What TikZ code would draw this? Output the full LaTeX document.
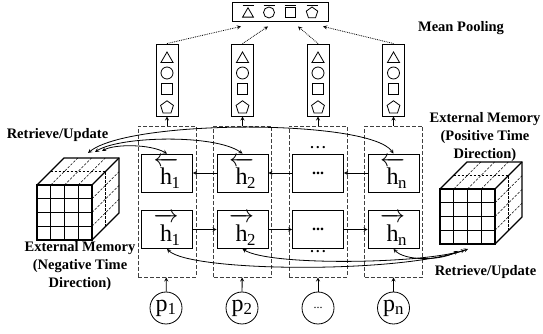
\documentclass[tikz,border=0pt]{standalone}
\usepackage{fontspec}
\setmainfont{Liberation Serif}
\usepackage{amsmath}
\usetikzlibrary{arrows,shapes.geometric,positioning}

\newcommand{\hst}[2]{$#1{\rule{0pt}{18.5pt}\text{h}}\mkern-5mu{}_{\text{#2}}$}

\tikzset{
  lbl/.style    = {font=\fontsize{14.5}{18}\selectfont\bfseries, align=center},
  vecbox/.style = {draw, line width=0.9pt, minimum width=22pt, minimum height=72pt, inner sep=0},
  hbox/.style   = {draw, line width=0.8pt, minimum width=51pt, minimum height=38pt,
                   inner sep=0, font=\fontsize{24}{24}\selectfont},
  colbox/.style = {draw=black!75, line width=0.8pt, dash pattern=on 4pt off 2pt,
                   minimum width=58pt, minimum height=151pt},
  pnode/.style  = {draw, circle, line width=0.8pt, minimum size=32pt, inner sep=0,
                   font=\fontsize{24}{24}\selectfont},
  shtri/.style  = {draw, line width=0.8pt, regular polygon, regular polygon sides=3,
                   minimum size=14pt, inner sep=0},
  shcirc/.style = {draw, line width=0.8pt, circle, minimum size=12pt, inner sep=0},
  shsq/.style   = {draw, line width=0.8pt, minimum size=10.5pt, inner sep=0},
  shpent/.style = {draw, line width=0.8pt, regular polygon, regular polygon sides=5,
                   minimum size=13.5pt, inner sep=0},
  link/.style   = {->, >=stealth, line width=0.8pt},
  memlink/.style = {<->, >=stealth, line width=0.8pt},
  poolarrow/.style = {->, >=stealth, line width=0.8pt, densely dotted},
  cubedash/.style = {line width=0.5pt, dash pattern=on 2.5pt off 1.5pt},
  memcube/.pic  = {
    % hidden edges first, then the front face with its grid
    \foreach \k in {1,2,3} {
      \draw[cubedash] (\k*13.75,55) -- ++(27,27);
      \draw[cubedash] (55,\k*13.75) -- ++(27,27);
    }
    \draw[cubedash] (13.5,68.5) -- ++(55,0) -- ++(0,-55);
    \draw[line width=1.1pt] (0,0) rectangle (55,55);
    \foreach \k in {1,2,3} {
      \draw[line width=1.1pt] (\k*13.75,0) -- (\k*13.75,55);
      \draw[line width=1.1pt] (0,\k*13.75) -- (55,\k*13.75);
    }
    \draw[line width=1.1pt] (0,55) -- ++(27,27) -- ++(55,0) -- ++(0,-55) -- (55,0);
    \draw[line width=1.1pt] (55,55) -- ++(27,27);
  }
}

\begin{document}
\begin{tikzpicture}[x=1pt,y=1pt]
  \useasboundingbox (0,0) rectangle (543,334);

  % columns
  \foreach \i/\x in {1/167,2/242.5,3/318,4/393.5} {
    \node[colbox] (col\i) at (\x,132.5) {};
    \node[vecbox] (vec\i) at (\x,254) {};
    \node[shtri]  at (\x,275) {};
    \node[shcirc] at (\x,261) {};
    \node[shsq]   at (\x,245) {};
    \node[shpent] at (\x,226.5) {};
    \draw[link] (col\i) -- (vec\i);
  }

  % hidden states
  \node[hbox] (hb1) at (167,161)   {\hst{\overleftarrow}{1}};
  \node[hbox] (hb2) at (242.5,161) {\hst{\overleftarrow}{2}};
  \node[hbox, font=\fontsize{16}{16}\selectfont\bfseries] (hb3) at (318,161) {...};
  \node[hbox] (hb4) at (393.5,161) {\hst{\overleftarrow}{n}};
  \node[hbox] (hf1) at (167,104.5)   {\hst{\overrightarrow}{1}};
  \node[hbox] (hf2) at (242.5,104.5) {\hst{\overrightarrow}{2}};
  \node[hbox, font=\fontsize{16}{16}\selectfont\bfseries] (hf3) at (318,104.5) {...};
  \node[hbox] (hf4) at (393.5,104.5) {\hst{\overrightarrow}{n}};
  \node[font=\fontsize{14}{14}\selectfont\bfseries, above=1pt of hb3] (dotsup) {.\,.\,.};
  \node[font=\fontsize{14}{14}\selectfont\bfseries, below=-2pt of hf3] (dotsdn) {.\,.\,.};

  \foreach \i/\j in {1/2,2/3,3/4} {
    \draw[link] (hf\i) -- (hf\j);
    \draw[link] (hb\j) -- (hb\i);
  }

  % inputs
  \node[pnode] (p1) at (166,26) {p\textsubscript{1}};
  \node[pnode] (p2) at (242,26) {p\textsubscript{2}};
  \node[pnode, font=\fontsize{12}{12}\selectfont] (p3) at (318,26) {...};
  \node[pnode] (p4) at (393.5,26) {p\textsubscript{n}};
  \foreach \i in {1,...,4}
    \draw[link] (p\i) -- (col\i);

  % mean pooling
  \node[draw, line width=0.9pt, minimum width=96pt, minimum height=19pt, inner sep=0]
    (pool) at (280,322.5) {};
  \node[shtri, minimum size=12.5pt] (pl1) at (248,320) {};
  \node[shcirc, minimum size=11pt]  (pl2) at (269,321.5) {};
  \node[shsq, minimum size=10pt]    (pl3) at (290,321.5) {};
  \node[shpent, minimum size=12pt]  (pl4) at (312,321) {};
  \foreach \x in {248,269,290,312}
    \draw[line width=0.8pt] (\x-5.5,329) -- (\x+5.5,329);
  \draw[poolarrow] (vec1.north) -- ([xshift=-39pt,yshift=-5pt]pool.south);
  \draw[poolarrow] (vec2.north) -- ([xshift=-12pt,yshift=-5pt]pool.south);
  \draw[poolarrow] (vec3.north) -- ([xshift=18pt,yshift=-5pt]pool.south);
  \draw[poolarrow] (vec4.north) -- ([xshift=43pt,yshift=-5pt]pool.south);
  \node[lbl] (meanlbl) at (461,306) {Mean Pooling};

  % external memories
  \pic at (37,94) {memcube};
  \pic at (440,90) {memcube};
  \node[lbl] (negmem) at (80,68) {External Memory\\(Negative Time\\Direction)};
  \node[lbl] (posmem) at (485,196.5) {External Memory\\(Positive Time\\Direction)};
  \node[lbl] (retL) at (57.5,199) {Retrieve/Update};
  \node[lbl] (retR) at (485.5,62) {Retrieve/Update};

  \coordinate (mL1) at (88,181);
  \coordinate (mL2) at (95,182);
  \coordinate (mL3) at (102,183);
  \coordinate (mR1) at (458,83);
  \coordinate (mR2) at (465,84);
  \coordinate (mR3) at (468,85);

  \draw[memlink] (mL1) .. controls (130,215) and (370,215) .. (hb4.north);
  \draw[memlink] (mL2) .. controls (120,198) and (215,200) .. (hb2.north);
  \draw[memlink] (mL3) .. controls (115,190) and (150,190) .. (hb1.north);
  \draw[memlink] (hf4.south) .. controls (405,73) and (440,73) .. (mR1);
  \draw[memlink] (hf2.south) .. controls (270,68) and (420,70) .. (mR2);
  \draw[memlink] (hf1.south) .. controls (190,62) and (400,60) .. (mR3);
\end{tikzpicture}
\end{document}
